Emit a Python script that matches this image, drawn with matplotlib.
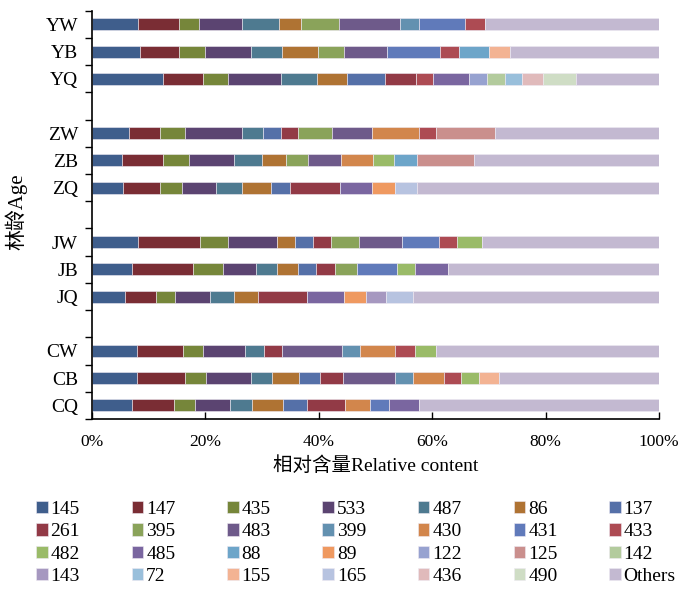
import numpy as np
import matplotlib
matplotlib.use('Agg')
import matplotlib.pyplot as plt

plt.rcParams['font.family'] = ['Liberation Serif', 'Noto Sans CJK SC']
plt.rcParams['font.size'] = 14

# Series (legend order) and their colours
series = ['145', '147', '435', '533', '487', '86', '137',
          '261', '395', '483', '399', '430', '431', '433',
          '482', '485', '88', '89', '122', '125', '142',
          '143', '72', '155', '165', '436', '490', 'Others']
colors = ['#3F5E8C', '#7A2D34', '#76863A', '#5B4471', '#4E7A90', '#AF7333', '#5570A8',
          '#923A46', '#8AA35A', '#6E5A8A', '#6391B0', '#D2864C', '#607ABA', '#AD4B53',
          '#9ABB68', '#7A66A0', '#6DA5C9', '#EF9960', '#97A2D0', '#CA8F8D', '#B3CB9D',
          '#A698C0', '#99BFDB', '#F3B393', '#B7C3E0', '#E0BABB', '#CFDDC5', '#C3B9D1']

# Relative content (%) of each sample
yw = {'145': 8.2, '147': 7.1, '435': 3.6, '533': 7.6, '487': 6.5, '86': 3.9, '395': 6.7,
      '483': 10.8, '399': 3.2, '431': 8.1, '433': 3.6, 'Others': 30.7}
yb = {'145': 8.4, '147': 6.9, '435': 4.6, '533': 8.1, '487': 5.5, '86': 6.3, '395': 4.6,
      '483': 7.7, '431': 9.2, '433': 3.4, '88': 5.4, '155': 3.6, 'Others': 26.3}
yq = {'145': 12.5, '147': 7.1, '435': 4.3, '533': 9.5, '487': 6.3, '86': 5.2, '137': 6.7,
      '261': 5.5, '433': 3.1, '485': 6.3, '122': 3.2, '142': 3.1, '72': 3.0, '436': 3.8,
      '490': 5.7, 'Others': 14.7}
zw = {'145': 6.5, '147': 5.5, '435': 4.4, '533': 10.0, '487': 3.8, '137': 3.1, '261': 3.0,
      '395': 6.0, '483': 7.0, '430': 8.4, '433': 3.0, '125': 10.4, 'Others': 28.9}
zb = {'145': 5.3, '147': 7.3, '435': 4.5, '533': 7.9, '487': 5.0, '86': 4.3, '395': 3.8,
      '483': 5.9, '430': 5.6, '482': 3.7, '88': 4.1, '125': 9.9, 'Others': 32.7}
zq = {'145': 5.5, '147': 6.5, '435': 3.8, '533': 6.0, '487': 4.6, '86': 5.1, '137': 3.5,
      '261': 8.7, '485': 5.6, '89': 4.2, '165': 3.8, 'Others': 42.7}
jw = {'145': 8.1, '147': 11.0, '435': 4.8, '533': 8.7, '86': 3.2, '137': 3.1, '261': 3.3,
      '395': 4.9, '483': 7.5, '431': 6.6, '433': 3.2, '482': 4.3, 'Others': 31.3}
jb = {'145': 7.0, '147': 10.8, '435': 5.3, '533': 5.8, '487': 3.7, '86': 3.8, '137': 3.1,
      '261': 3.4, '395': 3.8, '431': 7.1, '482': 3.1, '485': 5.8, 'Others': 37.3}
jq = {'145': 5.8, '147': 5.4, '435': 3.4, '533': 6.2, '487': 4.2, '86': 4.3, '261': 8.7,
      '485': 6.4, '89': 3.9, '143': 3.5, '165': 4.8, 'Others': 43.4}
cw = {'145': 8.0, '147': 8.0, '435': 3.6, '533': 7.3, '487': 3.5, '261': 3.1, '483': 10.6,
      '399': 3.2, '430': 6.2, '433': 3.4, '482': 3.8, 'Others': 39.3}
cb = {'145': 7.9, '147': 8.5, '435': 3.7, '533': 8.0, '487': 3.6, '86': 4.8, '137': 3.7,
      '261': 4.0, '483': 9.3, '399': 3.2, '430': 5.3, '433': 3.1, '482': 3.2, '155': 3.5,
      'Others': 28.2}
cq = {'145': 7.1, '147': 7.3, '435': 3.7, '533': 6.3, '487': 3.9, '86': 5.4, '137': 4.2,
      '261': 6.7, '430': 4.5, '431': 3.2, '485': 5.4, 'Others': 42.3}

samples = ['YW', 'YB', 'YQ', 'ZW', 'ZB', 'ZQ', 'JW', 'JB', 'JQ', 'CW', 'CB', 'CQ']
data = [yw, yb, yq, zw, zb, zq, jw, jb, jq, cw, cb, cq]

# rows from the top, leaving an empty row between age groups
ypos = np.array([0, 1, 2, 4, 5, 6, 8, 9, 10, 12, 13, 14])

fig = plt.figure(figsize=(6.8, 5.89), dpi=100)
ax = fig.add_axes([0.1353, 0.2886, 0.8338, 0.6932])

left = np.zeros(len(samples))
handles = []
for name, col in zip(series, colors):
    vals = np.array([d.get(name, 0.0) for d in data])
    h = ax.barh(ypos, vals, left=left, height=0.44, color=col,
                edgecolor='#EEEAF2', linewidth=0.4, label=name)
    handles.append(h)
    left += vals

ax.set_xlim(0, 100)
ax.set_ylim(14.5, -0.5)
ax.set_xticks(np.arange(0, 101, 20))
ax.set_xticklabels([f'{v}%' for v in range(0, 101, 20)], fontsize=12.5)
ax.tick_params(axis='x', direction='in', length=5, width=1, pad=11)

# tick marks between rows, labels centred on the bars
ax.set_yticks(np.arange(-0.5, 15, 1))
ax.set_yticklabels([])
ax.tick_params(axis='y', which='major', direction='out', length=5, width=1)
ax.set_yticks(ypos, minor=True)
ax.set_yticklabels(samples, minor=True)
ax.tick_params(axis='y', which='minor', length=0, pad=10)

for s in ['top', 'right']:
    ax.spines[s].set_visible(False)
for s in ['left', 'bottom']:
    ax.spines[s].set_linewidth(1.2)

ax.set_xlabel('相对含量Relative content', labelpad=4)
fig.text(16 / 680, 1 - 212 / 589, '林龄Age', rotation=90, ha='center', va='center',
         fontsize=15)

# legend filled row by row
order = [r * 7 + c for c in range(7) for r in range(4)]
fig.legend([handles[i] for i in order], [series[i] for i in order],
           ncol=7, loc='upper left', bbox_to_anchor=(36 / 680, 1 - 501 / 589),
           frameon=False, borderpad=0, borderaxespad=0, handlelength=0.6,
           handleheight=0.6, handletextpad=0.15, columnspacing=2.65,
           labelspacing=0.27, fontsize=14)

fig.savefig('out.png', dpi=100)
